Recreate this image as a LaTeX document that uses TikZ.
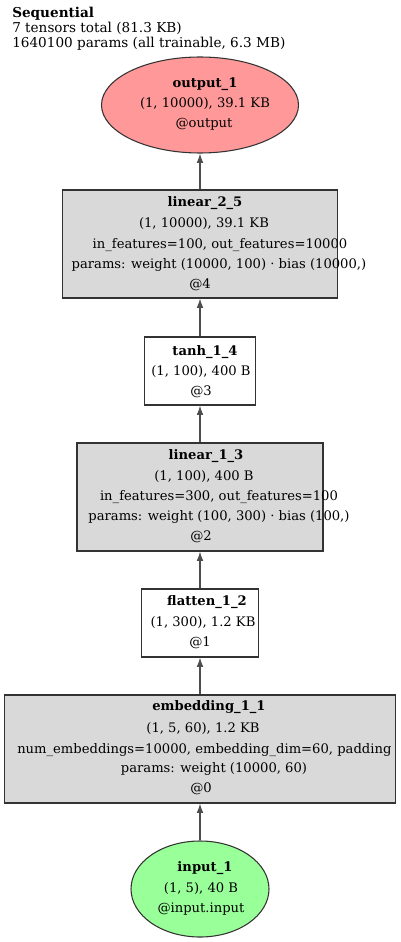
\documentclass[tikz,border=0pt]{standalone}
\usepackage{fontspec}
\setmainfont{DejaVu Serif}
\usetikzlibrary{shapes.geometric,arrows.meta}

\definecolor{outred}{HTML}{FF9999}
\definecolor{ingreen}{HTML}{99FF99}
\definecolor{modgray}{HTML}{D9D9D9}
\definecolor{edgegray}{HTML}{4D4D4D}

\tikzset{
  layerbox/.style={draw=black!80, line width=0.8pt, fill=modgray, minimum height=81pt, inner sep=0pt},
  plainbox/.style={draw=black!80, line width=0.8pt, fill=white, minimum height=51pt, inner sep=0pt},
  blob/.style={ellipse, draw=black!80, line width=0.8pt, minimum height=72pt, inner sep=0pt},
  txt/.style={inner sep=0pt, font=\fontsize{9.85}{11}\selectfont, text height=7pt, text depth=2pt},
  ttl/.style={txt, font=\fontsize{9.85}{11}\selectfont\bfseries},
  hdr/.style={inner sep=0pt, anchor=west, font=\fontsize{10.2}{11}\selectfont, text height=7pt, text depth=2pt},
  flow/.style={draw=edgegray, line width=0.8pt, -{Latex[length=7pt,width=5pt]}}
}

\begin{document}
\begin{tikzpicture}[x=0.75pt,y=-0.75pt]
    \useasboundingbox (0,0) rectangle (400,942);
    % summary in the top left corner
    \node[hdr, font=\fontsize{10.2}{11}\selectfont\bfseries] (seq) at (12,14) {Sequential};
    \node[hdr] (ntens) at (12,29) {7 tensors total (81.3 KB)};
    \node[hdr] (nparam) at (12,44) {1640100 params (all trainable, 6.3 MB)};

    % output
    \node[blob, fill=outred, minimum width=147.75pt] (output) at (200,105) {};
    \node[ttl] (output-a) at (205,84) {output\_1};
    \node[txt] (output-b) at (205,104) {(1, 10000), 39.1 KB};
    \node[txt] (output-c) at (204,124) {@output};

    % linear_2_5
    \node[layerbox, minimum width=206.25pt] (lin2) at (200,244) {};
    \node[ttl] (lin2-a) at (205,203) {linear\_2\_5};
    \node[txt] (lin2-b) at (204,224) {(1, 10000), 39.1 KB};
    \node[txt] (lin2-c) at (220,245) {in\_features=100, out\_features=10000};
    \node[txt] (lin2-d) at (219,265) {params: weight (10000, 100) · bias (10000,)};
    \node[txt] (lin2-e) at (200,285) {@4};

    % tanh_1_4
    \node[plainbox, minimum width=83.25pt] (tanh) at (200,371) {};
    \node[ttl] (tanh-a) at (205,352) {tanh\_1\_4};
    \node[txt] (tanh-b) at (201,372) {(1, 100), 400 B};
    \node[txt] (tanh-c) at (201,392) {@3};

    % linear_1_3
    \node[layerbox, minimum width=184.5pt] (lin1) at (200,497) {};
    \node[ttl] (lin1-a) at (206,456) {linear\_1\_3};
    \node[txt] (lin1-b) at (204,477) {(1, 100), 400 B};
    \node[txt] (lin1-c) at (219,497) {in\_features=300, out\_features=100};
    \node[txt] (lin1-d) at (219,517) {params: weight (100, 300) · bias (100,)};
    \node[txt] (lin1-e) at (201,537) {@2};

    % flatten_1_2
    \node[plainbox, minimum width=87.75pt] (flat) at (200,623) {};
    \node[ttl] (flat-a) at (207,602) {flatten\_1\_2};
    \node[txt] (flat-b) at (203,623) {(1, 300), 1.2 KB};
    \node[txt] (flat-c) at (200,643) {@1};

    % embedding_1_1
    \node[layerbox, minimum width=293.25pt] (emb) at (200,749) {};
    \node[ttl] (emb-a) at (209,707) {embedding\_1\_1};
    \node[txt] (emb-b) at (203,729) {(1, 5, 60), 1.2 KB};
    \node[txt, anchor=west] (emb-c) at (17,750) {num\_embeddings=10000, embedding\_dim=60, padding};
    \node[txt] (emb-d) at (214,769) {params: weight (10000, 60)};
    \node[txt] (emb-e) at (201,789) {@0};

    % input
    \node[blob, fill=ingreen, minimum width=103.5pt] (input) at (200,889) {};
    \node[ttl] (input-a) at (205,868) {input\_1};
    \node[txt] (input-b) at (201,889) {(1, 5), 40 B};
    \node[txt] (input-c) at (201,909) {@input.input};

    % data flow, bottom to top
    \draw[flow] (input) -- (emb);
    \draw[flow] (emb) -- (flat);
    \draw[flow] (flat) -- (lin1);
    \draw[flow] (lin1) -- (tanh);
    \draw[flow] (tanh) -- (lin2);
    \draw[flow] (lin2) -- (output);
\end{tikzpicture}
\end{document}
